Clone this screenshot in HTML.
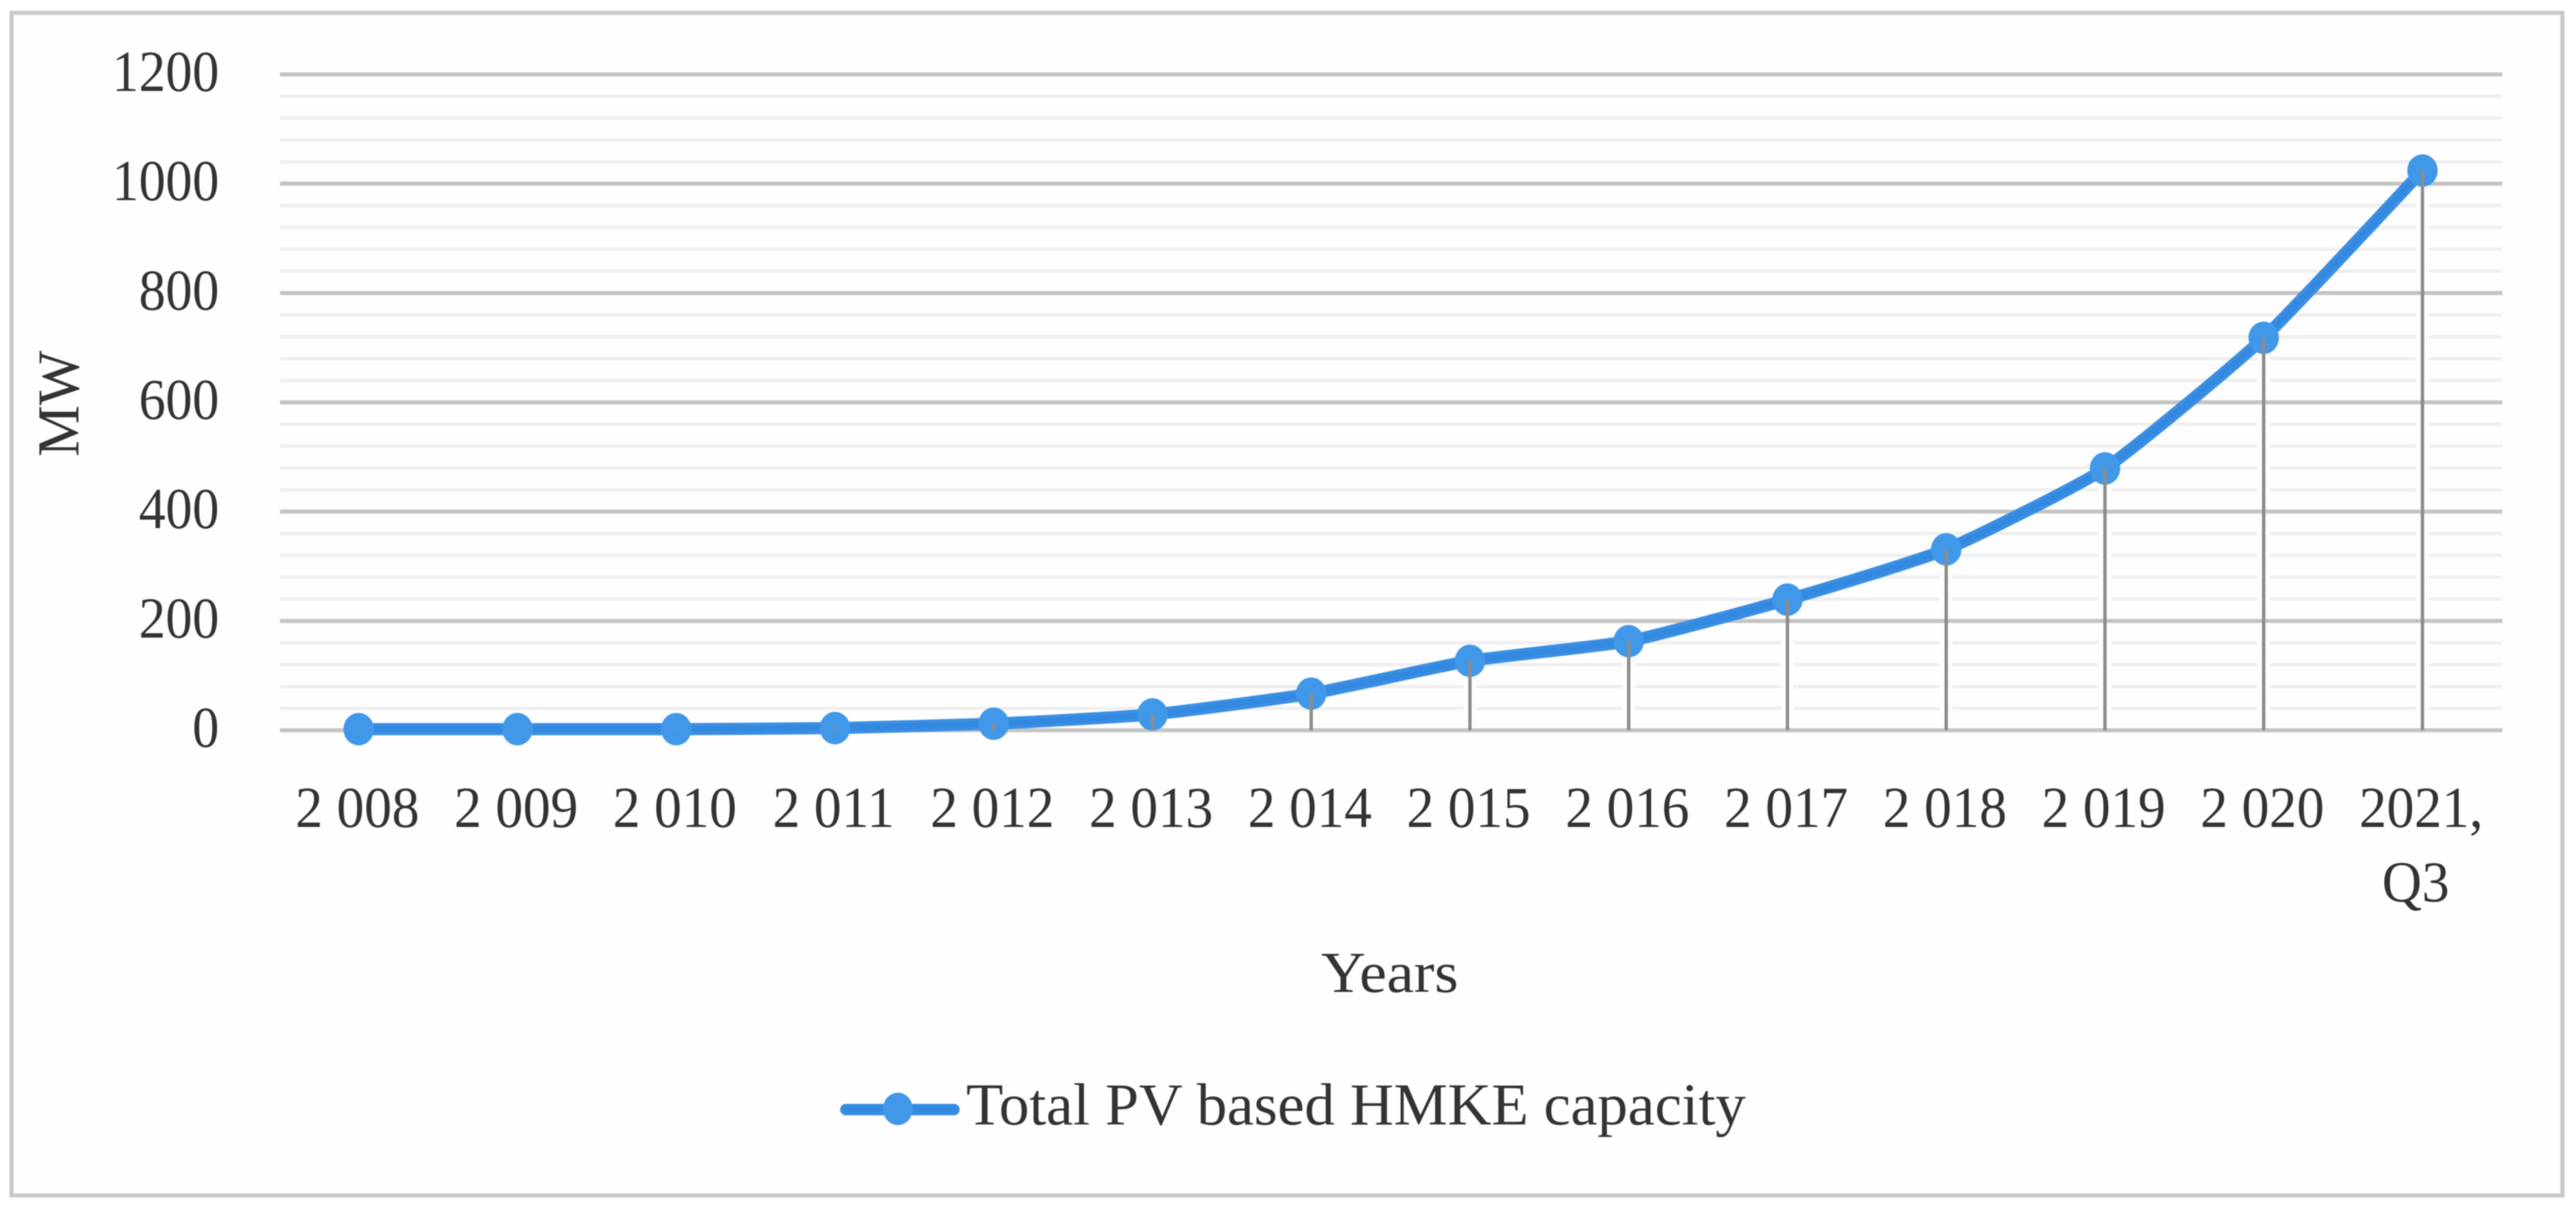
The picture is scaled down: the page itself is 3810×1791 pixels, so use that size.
<!DOCTYPE html>
<html lang="en">
<head>
<meta charset="utf-8">
<title>Total PV based HMKE capacity</title>
<style>
html,body{margin:0;padding:0;background:#fff;width:3810px;height:1791px;overflow:hidden}
svg{display:block;filter:blur(0.9px)}
text{font-family:"Liberation Serif",serif;fill:#333333}
</style>
</head>
<body>
<svg id="chart" xmlns="http://www.w3.org/2000/svg" width="3810" height="1791" viewBox="0 0 3810 1791">
  <rect x="0" y="0" width="3810" height="1791" fill="#ffffff"/>
  <rect x="17" y="19" width="3773" height="1749" fill="#fefefe" stroke="#c9c9c9" stroke-width="6"/>
  <g id="minor-grid"></g>
  <g id="halos"></g>
  <g id="major-grid"></g>
  <g id="y-ticks"></g>
  <g id="x-ticks"></g>
  <g id="series"></g>
  <g id="drops"></g>
  <text transform="translate(116,597) rotate(-90)" text-anchor="middle" font-size="88" textLength="157" lengthAdjust="spacingAndGlyphs">MW</text>
  <text x="2055.5" y="1467" text-anchor="middle" font-size="86" textLength="203" lengthAdjust="spacingAndGlyphs">Years</text>
  <g>
    <line x1="1251" y1="1641" x2="1411" y2="1641" stroke="#3b8fe3" stroke-width="17" stroke-linecap="round"/>
    <line x1="1251" y1="1641" x2="1411" y2="1641" stroke="#3389df" stroke-width="9" stroke-linecap="round"/>
    <ellipse cx="1328" cy="1640" rx="22" ry="24" fill="#4298e8"/>
    <text x="1429" y="1663" font-size="88" textLength="1153" lengthAdjust="spacingAndGlyphs">Total PV based HMKE capacity</text>
  </g>
</svg>
<script>
const categories = ["2 008","2 009","2 010","2 011","2 012","2 013","2 014","2 015","2 016","2 017","2 018","2 019","2 020","2021,|Q3"];
const capacityMW = [2,2,2,4,12,29,67,127,163,239,331,479,718,1024];
const majorTicks = [0,200,400,600,800,1000,1200];
const minorTicks = [40,80,120,160,240,280,320,360,440,480,520,560,640,680,720,760,840,880,920,960,1040,1080,1120,1160];

const SVG_NS = "http://www.w3.org/2000/svg";
const plotLeft = 414, plotRight = 3701, axisY = 1080, topY = 110, maxVal = 1200;
const firstX = 530.5, stepX = 234.8, smoothing = 12;
function xScale(i){ return firstX + i * stepX; }
function yScale(v){ return axisY - (v / maxVal) * (axisY - topY); }
function mk(tag, parent, attrs){
  const el = document.createElementNS(SVG_NS, tag);
  for (const k in attrs) el.setAttribute(k, attrs[k]);
  parent.appendChild(el);
  return el;
}
function smoothPath(vals){
  const p = vals.map(function(v,i){ return [xScale(i), yScale(v)]; });
  let d = "M" + p[0][0] + " " + p[0][1];
  for (let i = 0; i < p.length - 1; i++){
    const a = p[Math.max(i - 1, 0)], b = p[i], c = p[i + 1], e = p[Math.min(i + 2, p.length - 1)];
    d += " C" + (b[0] + (c[0] - a[0]) / smoothing) + " " + (b[1] + (c[1] - a[1]) / smoothing) + " " +
         (c[0] - (e[0] - b[0]) / smoothing) + " " + (c[1] - (e[1] - b[1]) / smoothing) + " " + c[0] + " " + c[1];
  }
  return d;
}
const minorG = document.getElementById("minor-grid");
minorTicks.forEach(function(v){
  const l = mk("line", minorG, {x1:plotLeft, x2:plotRight, y1:yScale(v), y2:yScale(v), stroke:"#efefef", "stroke-width":5});
  
  
});
const haloG = document.getElementById("halos");
capacityMW.forEach(function(v,i){
  const h = mk("line", haloG, {x1:xScale(i), x2:xScale(i), y1:yScale(v), y2:axisY, stroke:"#fefefe", "stroke-width":18});
  
  
});
const majorG = document.getElementById("major-grid");
majorTicks.forEach(function(v){
  const l = mk("line", majorG, {x1:plotLeft, x2:plotRight, y1:yScale(v), y2:yScale(v), stroke:"#c4c4c4", "stroke-width":6});
  
  
});
const yG = document.getElementById("y-ticks");
majorTicks.forEach(function(v){
  const t = mk("text", yG, {transform:"translate(324," + (yScale(v) + 24.5) + ") scale(0.92,1)", "text-anchor":"end", "font-size":86});
  t.textContent = String(v);
  
  
});
const xG = document.getElementById("x-ticks");
categories.forEach(function(c,i){
  c.split("|").forEach(function(part,row){
    const t = mk("text", xG, {transform:"translate(" + (xScale(i) - 2 - row * 8) + "," + (1223 + row * 110) + ") scale(0.948,1)", "text-anchor":"middle", "font-size":86});
    t.textContent = part;
    
    
  });
});
const seriesG = document.getElementById("series");
const pathD = smoothPath(capacityMW);
const line = mk("path", seriesG, {d:pathD, fill:"none", stroke:"#3b8fe3", "stroke-width":18, "stroke-linejoin":"round", "stroke-linecap":"round"});


const core = mk("path", seriesG, {d:pathD, fill:"none", stroke:"#3389df", "stroke-width":9, "stroke-linejoin":"round", "stroke-linecap":"round"});


capacityMW.forEach(function(v,i){
  const m = mk("ellipse", seriesG, {cx:xScale(i), cy:yScale(v), rx:22.5, ry:24, fill:"#4298e8"});
  
  
});
const dropG = document.getElementById("drops");
capacityMW.forEach(function(v,i){
  const d = mk("line", dropG, {x1:xScale(i), x2:xScale(i), y1:yScale(v), y2:axisY, stroke:"#8c8c8c", "stroke-width":5});
  
  
});
</script>
</body>
</html>
